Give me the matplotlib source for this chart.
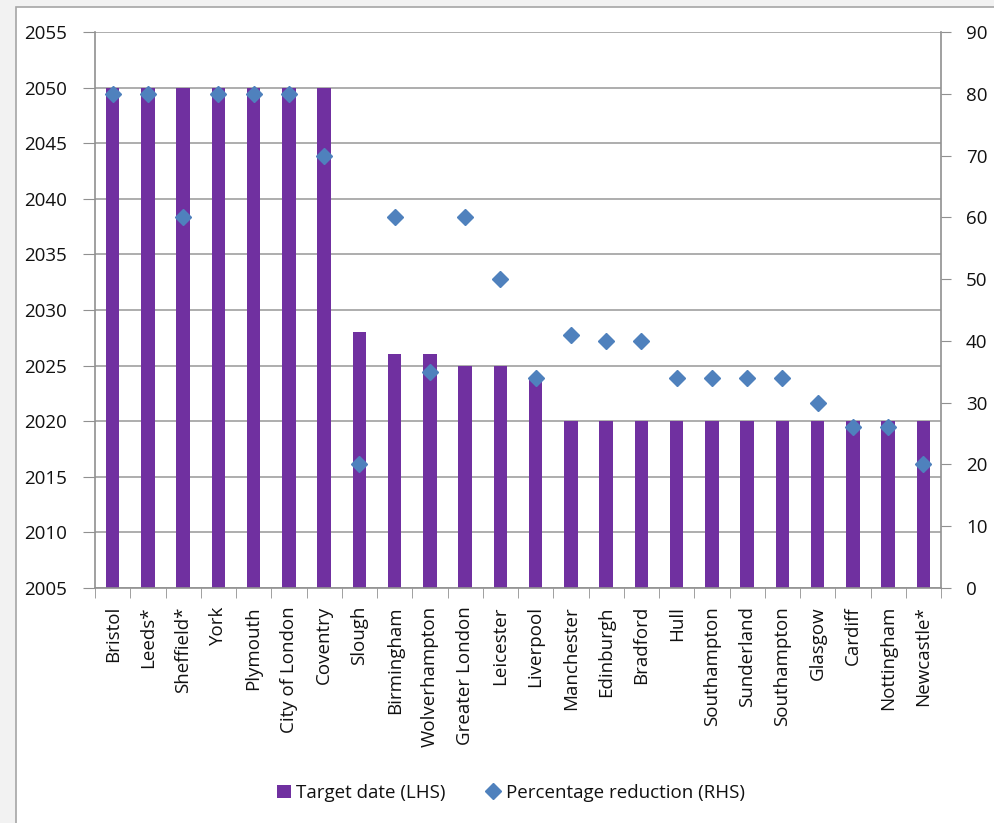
import matplotlib
matplotlib.use("Agg")
import matplotlib.pyplot as plt
from matplotlib.patches import Rectangle
from matplotlib.lines import Line2D
import numpy as np

cities = ["Bristol", "Leeds*", "Sheffield*", "York", "Plymouth", "City of London",
          "Coventry", "Slough", "Birmingham", "Wolverhampton", "Greater London",
          "Leicester", "Liverpool", "Manchester", "Edinburgh", "Bradford", "Hull",
          "Southampton", "Sunderland", "Southampton", "Glasgow", "Cardiff",
          "Nottingham", "Newcastle*"]
target_year = [2050, 2050, 2050, 2050, 2050, 2050, 2050, 2028, 2026, 2026, 2025,
               2025, 2024, 2020, 2020, 2020, 2020, 2020, 2020, 2020, 2020, 2020,
               2020, 2020]
pct_reduction = [80, 80, 60, 80, 80, 80, 70, 20, 60, 35, 60, 50, 34, 41, 40, 40,
                 34, 34, 34, 34, 30, 26, 26, 20]
left_ticks = list(range(2005, 2056, 5))
right_ticks = list(range(0, 91, 10))

plt.rcParams['font.family'] = ['Open Sans', 'DejaVu Sans']
W, H = 994, 823
fig = plt.figure(figsize=(W / 100, H / 100), dpi=100)
fig.patch.set_facecolor('#f2f2f2')
# white chart area with border
fig.patches.append(Rectangle((16 / W, -0.01), 1.0, 1 - 7 / H + 0.01,
                             transform=fig.transFigure, facecolor='white',
                             edgecolor='#a6a6a6', linewidth=1.2, zorder=-10))

ax = fig.add_axes([95 / W, 1 - 588 / H, (941 - 95) / W, (588 - 32) / H])
ax.set_facecolor('none')
x = np.arange(len(cities))
base = left_ticks[0]
ax.bar(x, np.array(target_year) - base, bottom=base, width=0.38,
       color='#7030A0', zorder=2)
ax.set_ylim(left_ticks[0], left_ticks[-1])
ax.set_yticks(left_ticks)
ax.set_xlim(-0.5, len(cities) - 0.5)
ax.set_xticks(x)
ax.set_xticklabels(cities, rotation=90, fontsize=13.5, color='#111111')
ax.set_xticks(np.arange(len(cities) + 1) - 0.5, minor=True)
ax.tick_params(axis='x', which='major', length=0, pad=13)
ax.tick_params(axis='x', which='minor', length=7, color='#909090', direction='out')
ax.tick_params(axis='y', length=9, color='#909090', labelsize=13.5, pad=11,
               labelcolor='#111111')
ax.yaxis.grid(True, color='#a0a0a0', linewidth=1.2, zorder=0)
ax.set_axisbelow(True)
for s in ['top', 'right']:
    ax.spines[s].set_visible(False)
for s in ['left', 'bottom']:
    ax.spines[s].set_color('#909090')
    ax.spines[s].set_linewidth(1.2)

ax2 = ax.twinx()
ax2.plot(x, pct_reduction, linestyle='none', marker='D', markersize=8.5,
         color='#4F81BD', zorder=3)
ax2.set_ylim(right_ticks[0], right_ticks[-1])
ax2.set_yticks(right_ticks)
ax2.tick_params(axis='y', length=7, color='#909090', labelsize=13.5, pad=11,
                labelcolor='#111111')
for s in ['top', 'left', 'bottom']:
    ax2.spines[s].set_visible(False)
ax2.spines['right'].set_color('#909090')
ax2.spines['right'].set_linewidth(1.2)

handles = [Rectangle((0, 0), 1, 1, facecolor='#7030A0'),
           Line2D([], [], linestyle='none', marker='D', markersize=8, color='#4F81BD')]
fig.legend(handles, ['Target date (LHS)', 'Percentage reduction (RHS)'],
           loc='center', bbox_to_anchor=(511 / W, 1 - 793 / H), ncol=2,
           frameon=False, fontsize=13.5, handlelength=0.7, handletextpad=0.3,
           columnspacing=2.2, labelcolor='#111111')

fig.savefig('out.png', dpi=100, facecolor=fig.get_facecolor())
